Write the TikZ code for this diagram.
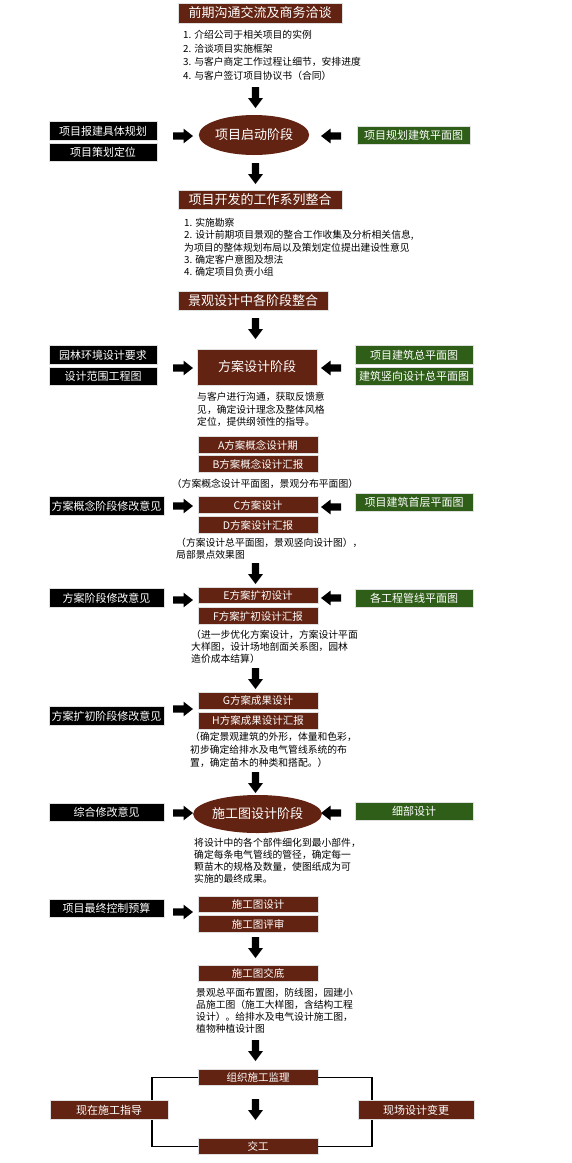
\documentclass[tikz,border=0pt]{standalone}
\usepackage{fontspec}
\setmainfont{Noto Sans CJK SC}
\usetikzlibrary{shapes.geometric}
\definecolor{brn}{HTML}{632312}
\definecolor{grn}{HTML}{2F5E18}
\tikzset{
  box/.style={fill=brn, draw=black!12, line width=0.6pt, text=white, inner sep=0pt,
    font=\fontsize{11}{13}\selectfont},
  titlebox/.style={box, font=\fontsize{13}{15}\selectfont},
  subbox/.style={box, minimum width=120pt, minimum height=16.5pt, font=\fontsize{10.5}{12}\selectfont},
  sidebox/.style={box, minimum height=18.5pt},
  brownbox/.style={sidebox},
  blackbox/.style={sidebox, fill=black},
  greenbox/.style={sidebox, fill=grn},
  oval/.style={ellipse, fill=brn, text=white, inner sep=0pt, font=\fontsize{13}{15}\selectfont},
  desc/.style={anchor=north west, align=left, inner sep=0pt},
  loopline/.style={draw=black, line width=1.2pt},
  downarrow/.pic={\fill (-3.7,0) -- (3.7,0) -- (3.7,11) -- (7.5,11) -- (0,21) -- (-7.5,11) -- (-3.7,11) -- cycle;},
  rightarrow/.pic={\fill (0,-3.6) -- (10.5,-3.6) -- (10.5,-7.4) -- (20,0) -- (10.5,7.4) -- (10.5,3.6) -- (0,3.6) -- cycle;},
  leftarrow/.pic={\fill (20,-3.6) -- (9.5,-3.6) -- (9.5,-7.4) -- (0,0) -- (9.5,7.4) -- (9.5,3.6) -- (20,3.6) -- cycle;},
}
\begin{document}
\begin{tikzpicture}[x=1pt,y=-1pt]
\useasboundingbox[fill=white] (0,0) rectangle (571,1163);

% ---- stage 1
\node[titlebox, minimum width=164pt, minimum height=20pt] (t1) at (260,13) {前期沟通交流及商务洽谈};
\node[desc, font=\fontsize{9.8}{13.7}\selectfont] (d1) at (183,30) {1. 介绍公司于相关项目的实例\\2. 洽谈项目实施框架\\3. 与客户商定工作过程让细节，安排进度\\4. 与客户签订项目协议书（合同）};
\pic at (255.5,87) {downarrow};

\node[blackbox, minimum width=108pt] (l1) at (103,131) {项目报建具体规划};
\node[blackbox, minimum width=108pt] (l2) at (103,152.5) {项目策划定位};
\pic at (173,136) {rightarrow};
\node[oval, minimum width=108pt, minimum height=40pt] (e1) at (254,135) {项目启动阶段};
\pic at (321,136) {leftarrow};
\node[greenbox, minimum width=113pt] (g1) at (413.5,135.5) {项目规划建筑平面图};
\pic at (255.5,163) {downarrow};

% ---- stage 2
\node[titlebox, minimum width=164pt, minimum height=19pt] (t2) at (260,199.5) {项目开发的工作系列整合};
\node[desc, font=\fontsize{9.8}{12.25}\selectfont] (d2) at (184,218) {1. 实施勘察\\2. 设计前期项目景观的整合工作收集及分析相关信息,\\为项目的整体规划布局以及策划定位提出建设性意见\\3. 确定客户意图及想法\\4. 确定项目负责小组};

\node[titlebox, minimum width=150pt, minimum height=19pt] (t3) at (253,300.5) {景观设计中各阶段整合};
\pic at (255.5,318) {downarrow};

% ---- scheme design
\node[blackbox, minimum width=108pt] (l3) at (103,355) {园林环境设计要求};
\node[blackbox, minimum width=108pt] (l4) at (103,376.5) {设计范围工程图};
\pic at (173,368) {rightarrow};
\node[titlebox, minimum width=120pt, minimum height=36pt] (s1) at (257,367) {方案设计阶段};
\pic at (321,368) {leftarrow};
\node[greenbox, minimum width=118pt] (g2) at (414,355) {项目建筑总平面图};
\node[greenbox, minimum width=118pt] (g3) at (414,376.5) {建筑竖向设计总平面图};

\node[desc, font=\fontsize{9.8}{12.5}\selectfont] (d3) at (197,392) {与客户进行沟通，获取反馈意\\见，确定设计理念及整体风格\\定位，提供纲领性的指导。};

\node[subbox] (sa) at (258,445) {A方案概念设计期};
\node[subbox] (sb) at (258,464) {B方案概念设计汇报};
\node[inner sep=0pt, font=\fontsize{9.8}{12}\selectfont] (pa) at (265,484) {（方案概念设计平面图，景观分布平面图）};

\node[blackbox, minimum width=115pt] (l5) at (106.5,506) {方案概念阶段修改意见};
\pic at (173,506) {rightarrow};
\node[subbox] (sc) at (258,505) {C方案设计};
\node[subbox] (sd) at (258,525) {D方案设计汇报};
\pic at (321,507) {leftarrow};
\node[greenbox, minimum width=118pt] (g4) at (414,502.5) {项目建筑首层平面图};
\node[desc, font=\fontsize{9.8}{11.5}\selectfont] (d4) at (176,538) {（方案设计总平面图，景观竖向设计图），\\局部景点效果图};
\pic at (255.5,563) {downarrow};

\node[blackbox, minimum width=115pt] (l6) at (106.5,598) {方案阶段修改意见};
\pic at (173,600) {rightarrow};
\node[subbox] (se) at (258,595.5) {E方案扩初设计};
\node[subbox] (sf) at (258,616) {F方案扩初设计汇报};
\pic at (321,598) {leftarrow};
\node[greenbox, minimum width=118pt] (g5) at (414,598.5) {各工程管线平面图};
\node[desc, font=\fontsize{9.8}{12}\selectfont] (d5) at (191,630) {（进一步优化方案设计，方案设计平面\\大样图，设计场地剖面关系图，园林\\造价成本结算）};
\pic at (255.5,668) {downarrow};

\node[subbox] (sg) at (258,701) {G方案成果设计};
\node[subbox] (sh) at (258,721) {H方案成果设计汇报};
\pic at (173,709) {rightarrow};
\node[blackbox, minimum width=115pt] (l7) at (106.5,716) {方案扩初阶段修改意见};
\node[desc, font=\fontsize{9.8}{13}\selectfont] (d6) at (190,732) {（确定景观建筑的外形，体量和色彩，\\初步确定给排水及电气管线系统的布\\置，确定苗木的种类和搭配。）};
\pic at (255.5,772) {downarrow};

% ---- construction drawing
\node[blackbox, minimum width=115pt] (l8) at (106.5,812.5) {综合修改意见};
\pic at (173,813) {rightarrow};
\node[oval, minimum width=109pt, minimum height=38pt] (e2) at (257.5,814) {施工图设计阶段};
\pic at (321,813) {leftarrow};
\node[greenbox, minimum width=118pt] (g6) at (414,811.5) {细部设计};
\node[desc, font=\fontsize{9.8}{12}\selectfont] (d7) at (194,838) {将设计中的各个部件细化到最小部件，\\确定每条电气管线的管径，确定每一\\颗苗木的规格及数量，使图纸成为可\\实施的最终成果。};

\node[subbox] (si) at (258,904.5) {施工图设计};
\node[subbox] (sj) at (258,924) {施工图评审};
\node[blackbox, minimum width=115pt] (l9) at (106.5,908.5) {项目最终控制预算};
\pic at (173,912) {rightarrow};
\pic at (255.5,937) {downarrow};

\node[subbox] (sk) at (258,973.5) {施工图交底};
\node[desc, font=\fontsize{9.8}{12}\selectfont] (d8) at (196,988) {景观总平面布置图，防线图，园建小\\品施工图（施工大样图，含结构工程\\设计）。给排水及电气设计施工图，\\植物种植设计图};
\pic at (255.5,1040) {downarrow};

% ---- supervision loop
\node[subbox] (jl) at (258,1077.5) {组织施工监理};
\node[subbox] (jg) at (258,1146.5) {交工};
\coordinate (lc) at (152,1110);
\coordinate (rc) at (372,1110);
\draw[loopline] (jl.west) -| (lc) |- (jg.west);
\draw[loopline] (jl.east) -| (rc) |- (jg.east);
\node[brownbox, minimum width=118pt] (lw) at (109,1110) {现在施工指导};
\node[brownbox, minimum width=116pt] (re) at (416,1110) {现场设计变更};
\pic at (255.5,1099) {downarrow};
\end{tikzpicture}
\end{document}
